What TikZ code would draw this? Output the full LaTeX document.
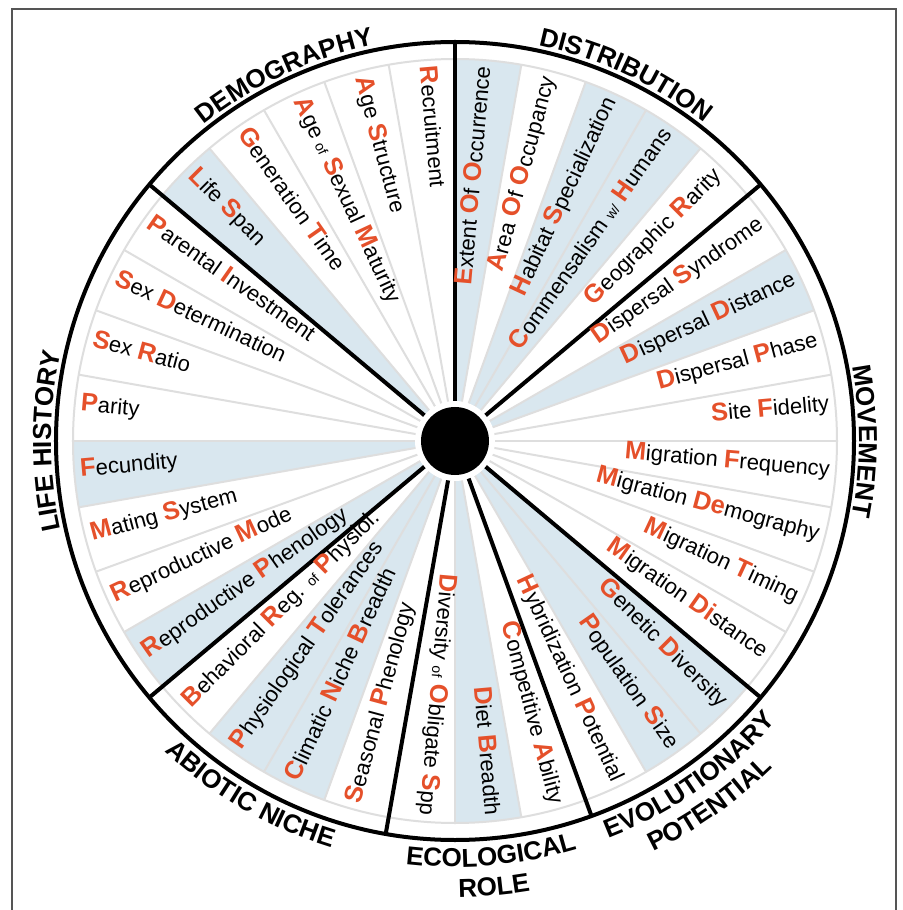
\documentclass[tikz,border=0pt]{standalone}
\usepackage{fontspec}
\setmainfont{Liberation Sans}
\usetikzlibrary{decorations.text}
\definecolor{secblue}{HTML}{D9E7EF}
\definecolor{orng}{HTML}{E5502A}
\definecolor{gline}{HTML}{DEDEDE}
\definecolor{framegray}{HTML}{555555}
\newcommand\I[1]{{\fontsize{25.5}{25}\selectfont\bfseries\color{orng}#1}}
\newcommand\sm[1]{{\fontsize{14}{14}\selectfont #1}}
\newcommand\labR[3]{\node[lab, rotate=#2, anchor=mid east] (#1) at (#2:376) {#3};}
\newcommand\labL[3]{\node[lab, rotate=#2+180, anchor=mid west] (#1) at (#2:376) {#3};}
\newcommand\bluewedge[1]{\fill[secblue] (0,0) -- (#1-5:382) arc[start angle=#1-5, end angle=#1+5, radius=382] -- cycle;}
\newcommand\catfont{\fontsize{26}{26}\selectfont\bfseries}
\begin{document}
\begin{tikzpicture}[x=1pt,y=1pt,
  lab/.style={inner sep=0pt, font=\fontsize{22}{24}\selectfont},
  thin gray/.style={draw=gline, line width=2pt},
  thick black/.style={draw=black, line width=4pt},
  catpath/.style={decorate, decoration={text along path, text align=center, text={|\catfont|#1}}}]
\useasboundingbox (-455,-469) rectangle (447,441);
\fill[white] (-455,-469) rectangle (447,441);
\draw[framegray, line width=1.3pt] (-443,-485) rectangle (441,432);
% blue sectors
\foreach \a in {85,65,55,25,-45,-55,-85,-115,-125,-145,-175,135} {\bluewedge{\a}}
% grey spokes and rim
\foreach \a in {0,10,...,350} {\draw[thin gray] (\a:38) -- (\a:382);}
\draw[thin gray] (0,0) circle (382);
% hub
\fill[white] (0,0) circle (40);
\fill[black] (0,0) circle (34);
% category boundaries
\foreach \a in {90,40,-40,-70,-100,-140,140} {\draw[thick black] (\a:40) -- (\a:399);}
\draw[black, line width=4pt] (0,0) circle (399);
% items
\labR{eoo}{85}{\I{E}xtent \I{O}f \I{O}ccurrence}
\labR{aoo}{75}{\I{A}rea \I{O}f \I{O}ccupancy}
\labR{hs}{65}{\I{H}abitat \I{S}pecialization}
\labR{cwh}{55}{\I{C}ommensalism \sm{w/} \I{H}umans}
\labR{gr}{45}{\I{G}eographic \I{R}arity}
\labR{dsy}{35}{\I{D}ispersal \I{S}yndrome}
\labR{ddi}{25}{\I{D}ispersal \I{D}istance}
\labR{dph}{15}{\I{D}ispersal \I{P}hase}
\labR{sf}{5}{\I{S}ite \I{F}idelity}
\labR{mf}{-5}{\I{M}igration \I{F}requency}
\labR{mde}{-15}{\I{M}igration \I{De}mography}
\labR{mt}{-25}{\I{M}igration \I{T}iming}
\labR{mdi}{-35}{\I{M}igration \I{Di}stance}
\labR{gd}{-45}{\I{G}enetic \I{D}iversity}
\labR{ps}{-55}{\I{P}opulation \I{S}ize}
\labR{hp}{-65}{\I{H}ybridization \I{P}otential}
\labR{ca}{-75}{\I{C}ompetitive \I{A}bility}
\labR{db}{-85}{\I{D}iet \I{B}readth}
\labR{dos}{-95}{\I{D}iversity \sm{of} \I{O}bligate \I{S}pp}
\labL{sp}{-105}{\I{S}easonal \I{P}henology}
\labL{cnb}{-115}{\I{C}limatic \I{N}iche \I{B}readth}
\labL{pt}{-125}{\I{P}hysiological \I{T}olerances}
\labL{brp}{-135}{\I{B}ehavioral \I{R}eg. \sm{of} \I{P}hysiol.}
\labL{rph}{-145}{\I{R}eproductive \I{P}henology}
\labL{rm}{-155}{\I{R}eproductive \I{M}ode}
\labL{ms}{-165}{\I{M}ating \I{S}ystem}
\labL{fe}{-175}{\I{F}ecundity}
\labL{pa}{175}{\I{P}arity}
\labL{sr}{165}{\I{S}ex \I{R}atio}
\labL{sd}{155}{\I{S}ex \I{D}etermination}
\labL{pi}{145}{\I{P}arental \I{I}nvestment}
\labL{ls}{135}{\I{L}ife \I{S}pan}
\labL{gt}{125}{\I{G}eneration \I{T}ime}
\labL{asm}{115}{\I{A}ge \sm{of} \I{S}exual \I{M}aturity}
\labL{ast}{105}{\I{A}ge \I{S}tructure}
\labL{rec}{95}{\I{R}ecruitment}
% category labels
\path[catpath=DEMOGRAPHY] (145:404) arc[start angle=145, end angle=85, radius=404];
\path[catpath=DISTRIBUTION] (95:404) arc[start angle=95, end angle=35, radius=404];
\path[catpath=MOVEMENT] (40:404) arc[start angle=40, end angle=-40, radius=404];
\path[catpath=LIFE HISTORY] (220:404) arc[start angle=220, end angle=140, radius=404];
\path[catpath=ABIOTIC NICHE] (-150:425) arc[start angle=-150, end angle=-90, radius=425];
\path[catpath=ECOLOGICAL] (-115:426) arc[start angle=-115, end angle=-55, radius=426];
\path[catpath=ROLE] (-115:456) arc[start angle=-115, end angle=-55, radius=456];
\path[catpath=EVOLUTIONARY] (-85:426) arc[start angle=-85, end angle=-25, radius=426];
\path[catpath=POTENTIAL] (-85:456) arc[start angle=-85, end angle=-25, radius=456];
\end{tikzpicture}
\end{document}
